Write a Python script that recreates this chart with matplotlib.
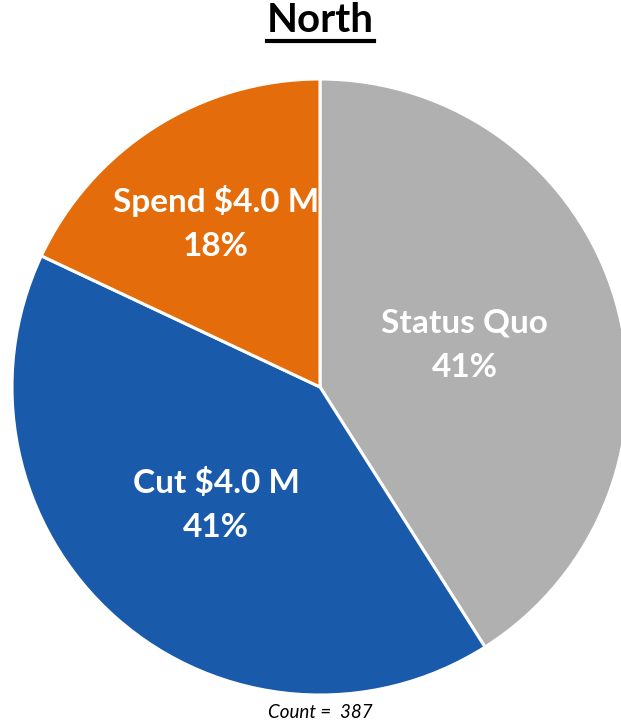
import matplotlib
matplotlib.use("Agg")
import matplotlib.pyplot as plt
import numpy as np
from matplotlib.lines import Line2D

categories = ["Status Quo", "Cut $4.0 M", "Spend $4.0 M"]
values = [41, 41, 18]
colors = ["#B0B0B0", "#1A5AAA", "#E46C0A"]
label_radius = [0.49, 0.51, 0.63]
title = "North"
count_text = "Count =  387"

plt.rcParams['font.family'] = ['Lato', 'DejaVu Sans']

fig = plt.figure(figsize=(6.21, 7.23), dpi=100)
ax = fig.add_axes([12/621, 28/723, 616/621, 616/723])
wedges, _ = ax.pie(values, colors=colors, startangle=90, counterclock=False,
                   wedgeprops=dict(edgecolor="white", linewidth=2.2))
ax.set_xlim(-1, 1)
ax.set_ylim(-1, 1)
ax.set_aspect("equal")
ax.axis("off")
for w in wedges:
    w.set_clip_on(False)

total = sum(values)
for w, cat, v, r in zip(wedges, categories, values, label_radius):
    mid = np.deg2rad((w.theta1 + w.theta2) / 2)
    ax.text(r * np.cos(mid), r * np.sin(mid), f"{cat}\n{v / total * 100:.0f}%",
            ha="center", va="center", color="white", fontsize=24,
            fontweight="bold", linespacing=1.65)

t = fig.text(320/621, 1 - 21/723, title, ha="center", va="center",
             fontsize=29, fontweight="bold", color="black")
fig.canvas.draw()
bb = t.get_window_extent(fig.canvas.get_renderer())
inv = fig.transFigure.inverted()
(x0, y0), (x1, y1) = inv.transform([[bb.x0, bb.y0], [bb.x1, bb.y1]])
fig.add_artist(Line2D([x0, x1], [1 - 41/723] * 2, transform=fig.transFigure,
                      color="black", linewidth=3))

fig.text(320/621, 1 - 713/723, count_text, ha="center", va="center",
         fontsize=13.5, fontstyle="italic", color="black")

fig.savefig("out.png", dpi=100, facecolor="white")
